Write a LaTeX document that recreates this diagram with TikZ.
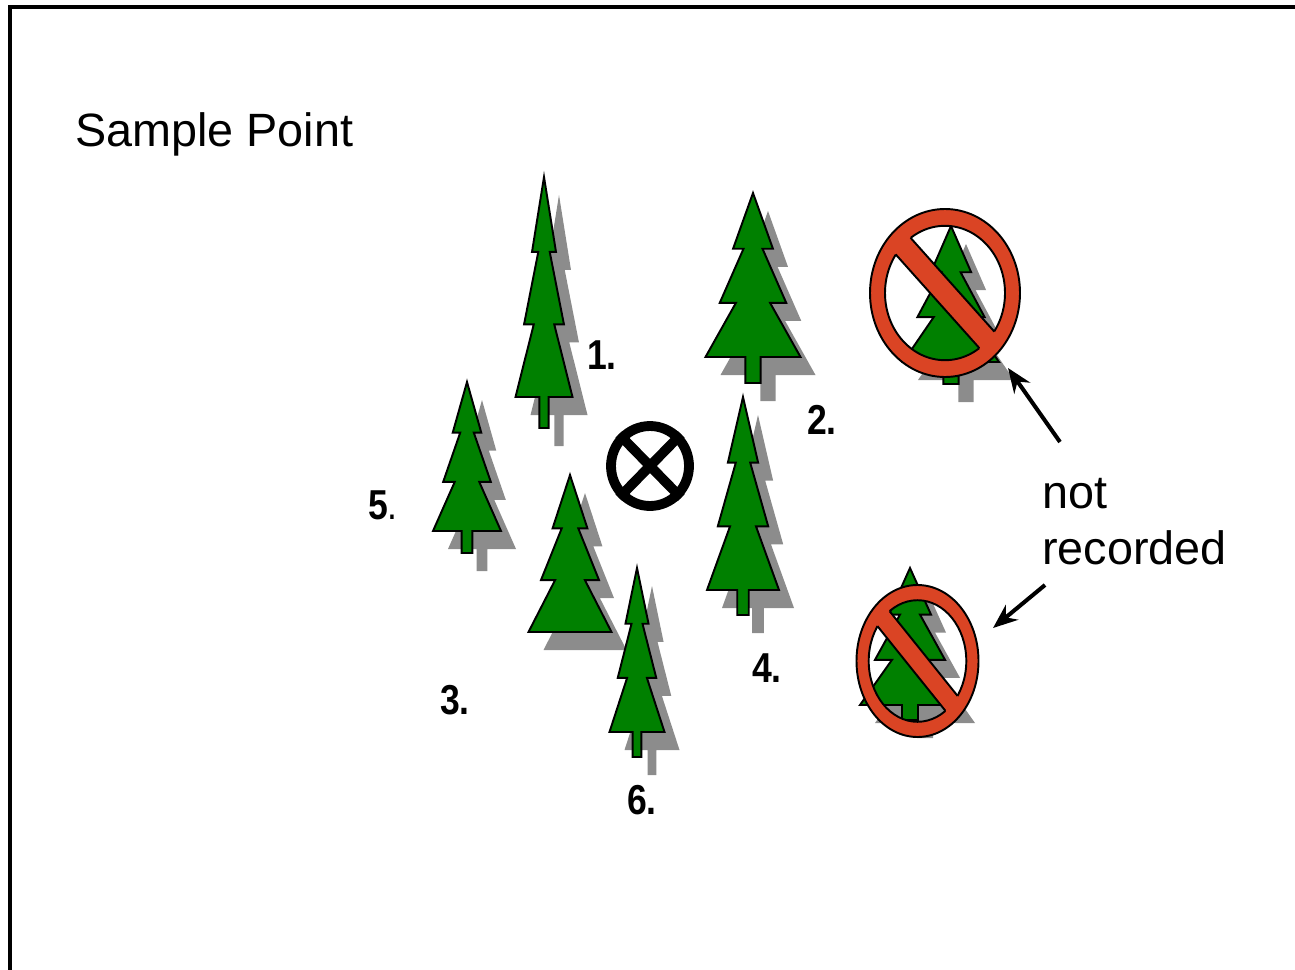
\documentclass[tikz,border=0pt]{standalone}
\usepackage{fontspec}
\usepackage{graphicx}
\setmainfont{Liberation Sans}
\usepackage{tikz}
\usetikzlibrary{arrows.meta, shapes.geometric, calc}

\definecolor{firgreen}{RGB}{0,128,0}
\definecolor{castgray}{RGB}{140,140,140}
\definecolor{signred}{RGB}{218,68,36}

% outline of a fir: half width, crown height, trunk length (apex at origin, y downwards)
\newcommand{\firshape}[3]{%
  (0,0) -- ({0.42*#1},{0.34*#2}) -- ({0.2*#1},{0.34*#2}) -- ({0.7*#1},{0.67*#2})
  -- ({0.36*#1},{0.67*#2}) -- (#1,#2) -- ({0.16*#1},#2) -- ({0.16*#1},{#2+#3})
  -- ({-0.16*#1},{#2+#3}) -- ({-0.16*#1},#2) -- (-#1,#2) -- ({-0.36*#1},{0.67*#2})
  -- ({-0.7*#1},{0.67*#2}) -- ({-0.2*#1},{0.34*#2}) -- ({-0.42*#1},{0.34*#2}) -- cycle}

\newcommand{\treenum}[1]{\scalebox{0.85}[1]{\bfseries #1}}

\tikzset{
  fircast/.style={fill=castgray},
  firbody/.style={fill=firgreen, draw=black, line width=1.1pt},
  ringpart/.style={fill=signred, draw=black, line width=1.1pt, even odd rule},
  caption/.style={font=\fontsize{26.6pt}{31.7pt}\selectfont, inner sep=0pt},
  numlabel/.style={font=\fontsize{23.8pt}{26pt}\selectfont, inner sep=0pt},
  pointer/.style={-{Stealth[length=14pt, width=11pt]}, line width=2.3pt}
}

\begin{document}
\begin{tikzpicture}[x=0.02cm, y=-0.02cm]
    \useasboundingbox (0,0) rectangle (1295,970);
    \clip (0,0) rectangle (1295,970);

    % Frame
    \draw[line width=2.3pt] (10,7) rectangle (1400,1100);

    \node[caption, anchor=base west] (title) at (75,146) {Sample Point};

    % Shadows first, then the trees (apex x/apex y/half width/crown/trunk)
    \foreach \px/\py/\w/\h/\t in {544/177/28.5/220/31, 753/193/47.5/164/26, 467/382/34/149/22,
                                  570/475/41.5/157/0, 637/568/27.5/164/25, 743/397/36/193/25,
                                  951/226/48/136/22, 910/568/50/137/15} {
        \fill[fircast, shift={({\px+15},{\py+18})}] \firshape{\w}{\h}{\t};
    }
    \foreach \px/\py/\w/\h/\t in {544/177/28.5/220/31, 753/193/47.5/164/26, 467/382/34/149/22,
                                  570/475/41.5/157/0, 637/568/27.5/164/25, 743/397/36/193/25,
                                  951/226/48/136/22, 910/568/50/137/15} {
        \filldraw[firbody, shift={(\px,\py)}] \firshape{\w}{\h}{\t};
    }

    % The sample point marker
    \node[draw, ellipse, line width=5.6pt, inner sep=0pt, minimum width=1.56cm,
          minimum height=1.6cm] (centre) at (650,466) {};
    \draw[line width=5.6pt] (centre.north west) -- (centre.south east)
                            (centre.north east) -- (centre.south west);

    % Prohibition signs over the excluded trees
    \foreach \cx/\cy/\rx/\ry/\s in {945/293/75/84/A, 917.5/661/61/76/B} {
        \begin{scope}[shift={(\cx,\cy)}, xscale=\rx, yscale=\ry]
            \filldraw[ringpart] (0,0) circle (1) (0,0) circle (0.8);
            \begin{scope}
                \clip (0,0) circle (0.9);
                \fill[signred] (0.806,0.608) -- (0.608,0.806) -- (-0.806,-0.608) -- (-0.608,-0.806) -- cycle;
            \end{scope}
            \begin{scope}
                \clip (0,0) circle (0.8);
                \draw[line width=1.1pt] (0.608,0.806) -- (-0.806,-0.608)
                                        (-0.608,-0.806) -- (0.806,0.608);
            \end{scope}
        \end{scope}
    }

    % Tree numbers
    \node[numlabel] (n1) at (602,355) {\treenum{1.}};
    \node[numlabel] (n2) at (822,420) {\treenum{2.}};
    \node[numlabel] (n3) at (455,700) {\treenum{3.}};
    \node[numlabel] (n4) at (767,668) {\treenum{4.}};
    \node[numlabel] (n5) at (383,505) {\treenum{5\textmd{.}}};
    \node[numlabel] (n6) at (642,800) {\treenum{6.}};

    % Label and pointers to the signs
    \node[caption, anchor=base west, align=left] (skip) at (1042,564) {not\\recorded};
    \coordinate (upTail) at (1060,442);
    \coordinate (signA) at (1008,368);
    \coordinate (downTail) at (1045,585);
    \coordinate (signB) at (993,628);
    \draw[pointer] (upTail) -- (signA);
    \draw[pointer] (downTail) -- (signB);
\end{tikzpicture}
\end{document}
